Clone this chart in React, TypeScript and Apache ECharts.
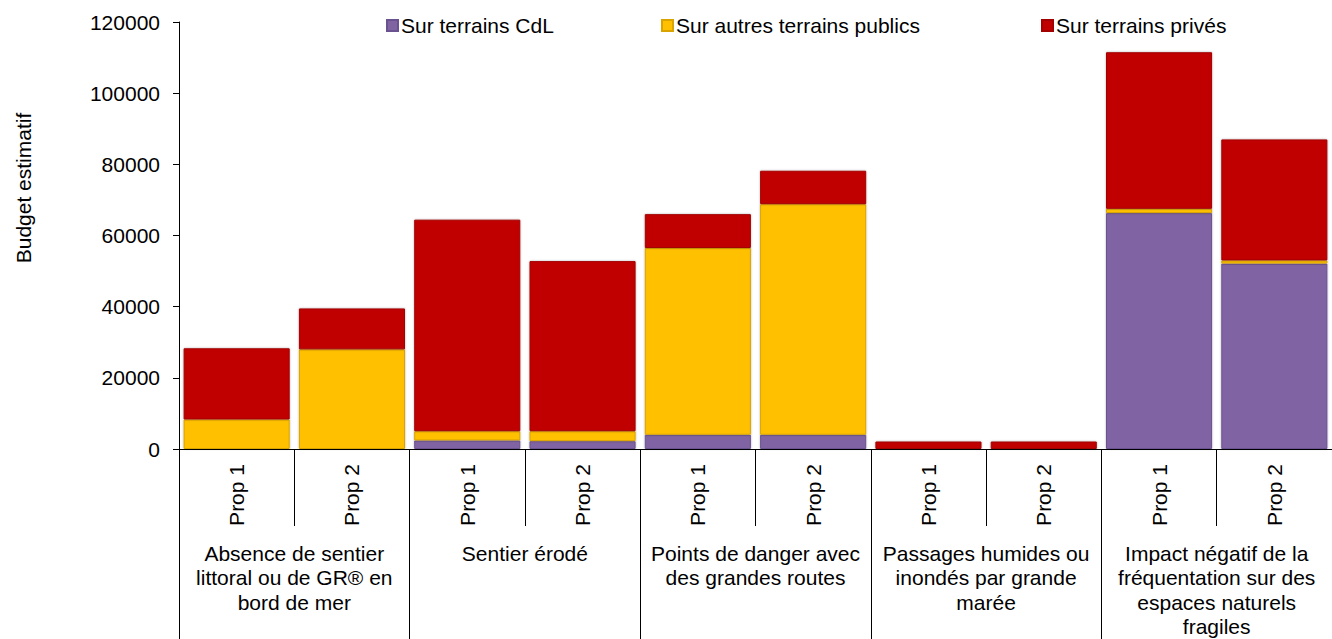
import React, { useEffect, useRef } from "react";
import * as echarts from "echarts";

const groups = [
  "Absence de sentier\nlittoral ou de GR® en\nbord de mer",
  "Sentier érodé",
  "Points de danger avec\ndes grandes routes",
  "Passages humides ou\ninondés par grande\nmarée",
  "Impact négatif de la\nfréquentation sur des\nespaces naturels\nfragiles",
];
const props = ["Prop 1", "Prop 2", "Prop 1", "Prop 2", "Prop 1", "Prop 2", "Prop 1", "Prop 2", "Prop 1", "Prop 2"];
const seriesNames = ["Sur terrains CdL", "Sur autres terrains publics", "Sur terrains privés"];
const cdl = [0, 0, 2400, 2200, 4000, 4000, 0, 0, 66300, 52100];
const publics = [8300, 28000, 2600, 2800, 52500, 64800, 0, 0, 1200, 900];
const prives = [20000, 11500, 59450, 47800, 9500, 9400, 2100, 2100, 44000, 34000];
const yTicks = { min: 0, max: 120000, interval: 20000 };

const FONT = "'Liberation Sans', Arial, sans-serif";

export default function App() {
  const ref = useRef<HTMLDivElement>(null);
  useEffect(() => {
    if (!ref.current) return;
    const chart = echarts.init(ref.current, null, { renderer: "svg" });
    const colors = ["#8064A2", "#FFC000", "#C00000"];
    const borders = ["#6A5290", "#D9A300", "#A30000"];
    const values = [cdl, publics, prives];
    const legendLefts = [381, 656, 1036];
    chart.setOption({
      animation: false,
      textStyle: { fontFamily: FONT },
      legend: seriesNames.map((n, i) => ({
        data: [n],
        left: legendLefts[i],
        top: 10,
        itemWidth: 11,
        itemHeight: 11,
        icon: "rect",
        selectedMode: false,
        textStyle: { fontSize: 21, color: "#000", fontFamily: FONT, padding: [0, 0, 0, -2] },
      })),
      grid: { left: 179, right: 0, top: 22, bottom: 184, containLabel: false },
      graphic: [
        {
          type: "text",
          x: 23,
          y: 188,
          rotation: Math.PI / 2,
          style: {
            text: "Budget estimatif",
            fontSize: 21,
            fontFamily: FONT,
            fill: "#000",
            align: "center",
            verticalAlign: "middle",
          },
        },
      ],
      xAxis: [
        {
          type: "category",
          data: props,
          position: "bottom",
          axisLine: { show: true, lineStyle: { color: "#000", width: 1 } },
          axisTick: { show: true, interval: 0, length: 77, lineStyle: { color: "#000" } },
          axisLabel: {
            interval: 0,
            rotate: 90,
            fontSize: 21,
            color: "#000",
            margin: 15,
            fontFamily: FONT,
          },
          splitLine: { show: false },
        },
        {
          type: "category",
          data: groups,
          position: "bottom",
          axisLine: { show: false },
          axisTick: { show: true, interval: 0, length: 190, lineStyle: { color: "#000" } },
          axisLabel: {
            interval: 0,
            fontSize: 21,
            lineHeight: 24.5,
            color: "#000",
            margin: 92,
            align: "center",
            fontFamily: FONT,
          },
          splitLine: { show: false },
        },
        {
          type: "category",
          data: props,
          position: "bottom",
          axisLine: { show: false },
          axisTick: { show: true, inside: true, alignWithLabel: true, interval: 0, length: 4, lineStyle: { color: "#000" } },
          axisLabel: { show: false },
          splitLine: { show: false },
        },
      ],
      yAxis: {
        type: "value",
        min: yTicks.min,
        max: yTicks.max,
        interval: yTicks.interval,
        axisLine: { show: true, lineStyle: { color: "#000" } },
        axisTick: { show: true, length: 6, lineStyle: { color: "#000" } },
        axisLabel: {
          fontSize: 21,
          color: "#000",
          margin: 19,
          fontFamily: FONT,
          formatter: (v: number) => String(v),
        },
        splitLine: { show: false },
      },
      series: seriesNames.map((n, i) => ({
        name: n,
        type: "bar",
        stack: "total",
        xAxisIndex: 0,
        barCategoryGap: "8%",
        itemStyle: {
          color: colors[i],
          borderColor: borders[i],
          borderWidth: 1,
          shadowColor: "rgba(0,0,0,0.3)",
          shadowBlur: 2,
        },
        data: values[i].map((v) => (v === 0 ? "-" : v)),
      })),
    });
    return () => chart.dispose();
  }, []);
  return (
    <div
      ref={ref}
      style={{ position: "absolute", left: 0, top: 0, width: 1332, height: 639 }}
    />
  );
}
